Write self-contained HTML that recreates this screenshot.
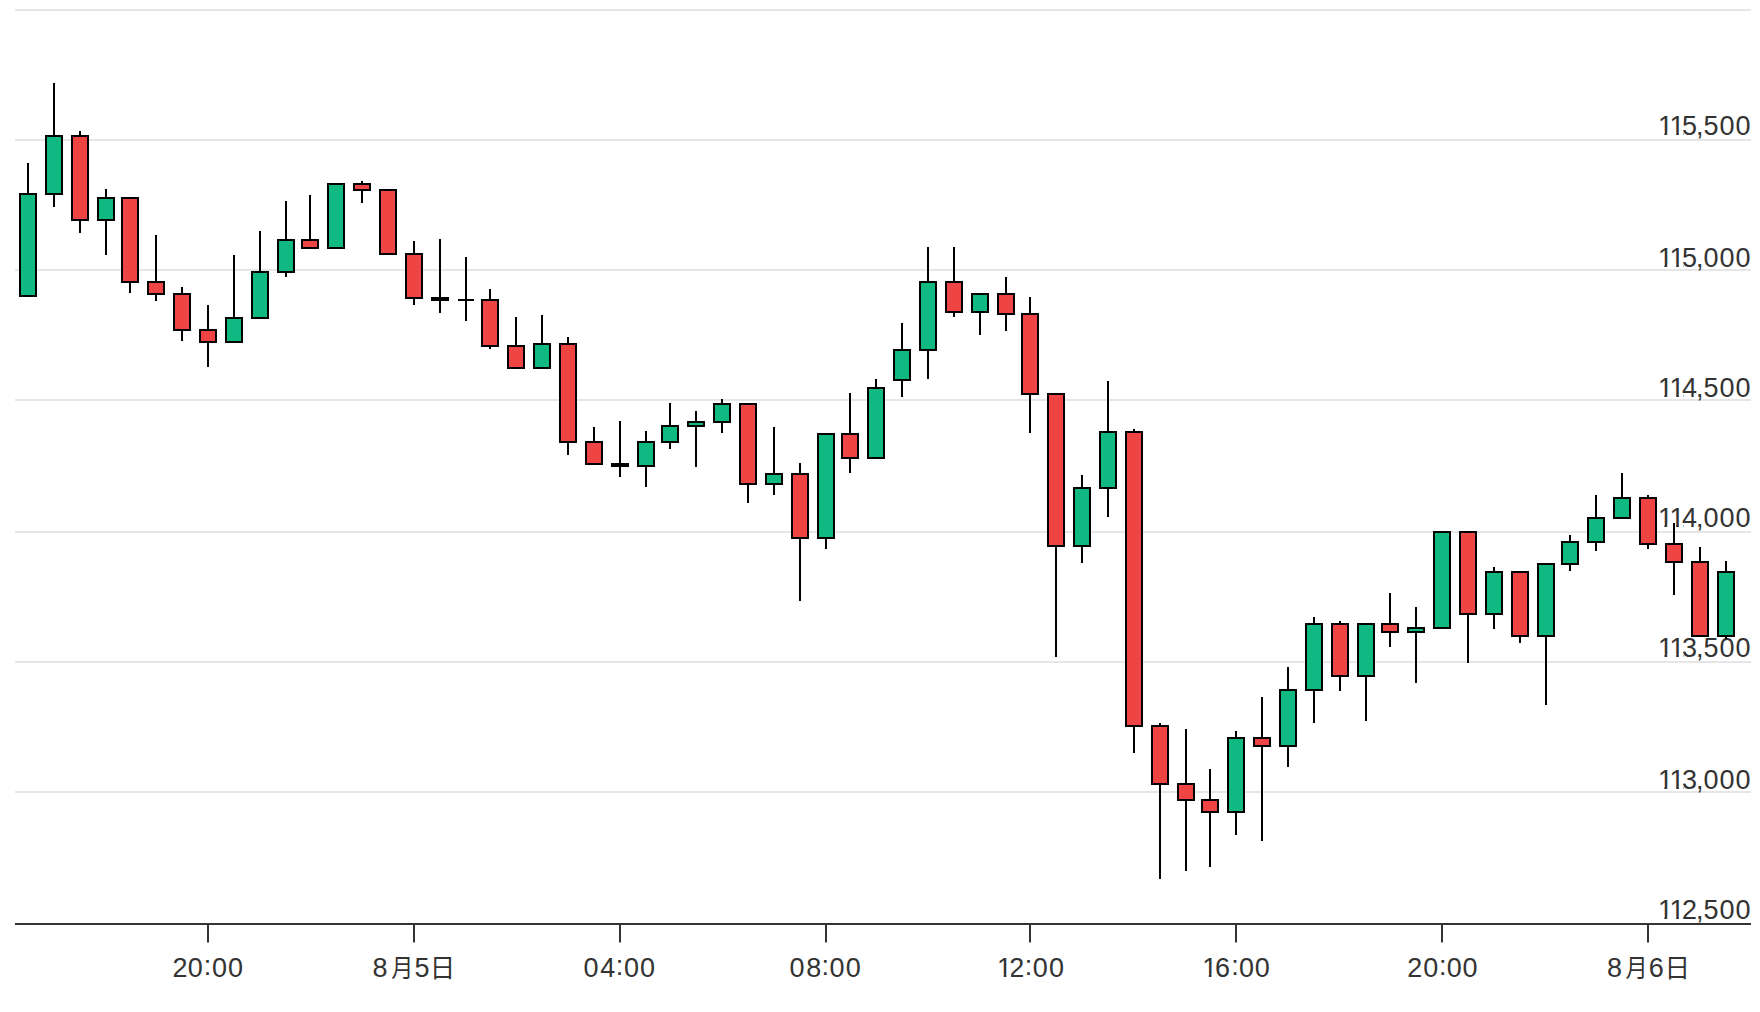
<!DOCTYPE html>
<html lang="zh"><head><meta charset="utf-8"><title>K线图</title>
<style>html,body{margin:0;padding:0;background:#fff}body{width:1760px;height:1012px;overflow:hidden}svg{display:block}text{font-family:"Liberation Sans","Noto Sans CJK SC",sans-serif;fill:#333333}.n{font-size:27px}.c{font-size:25.5px}</style></head><body>
<svg width="1760" height="1012" viewBox="0 0 1760 1012">
<rect width="1760" height="1012" fill="#fff"/>
<g stroke="#e6e6e6" stroke-width="2">
<line x1="15" y1="10" x2="1751" y2="10"/>
<line x1="15" y1="140" x2="1751" y2="140"/>
<line x1="15" y1="270" x2="1751" y2="270"/>
<line x1="15" y1="400" x2="1751" y2="400"/>
<line x1="15" y1="532" x2="1751" y2="532"/>
<line x1="15" y1="662" x2="1751" y2="662"/>
<line x1="15" y1="792" x2="1751" y2="792"/>
</g>
<g stroke="#333333" stroke-width="2">
<line x1="15" y1="924" x2="1751" y2="924"/>
<line x1="208" y1="924" x2="208" y2="942.5"/>
<line x1="414" y1="924" x2="414" y2="942.5"/>
<line x1="620" y1="924" x2="620" y2="942.5"/>
<line x1="826" y1="924" x2="826" y2="942.5"/>
<line x1="1030" y1="924" x2="1030" y2="942.5"/>
<line x1="1236" y1="924" x2="1236" y2="942.5"/>
<line x1="1442" y1="924" x2="1442" y2="942.5"/>
<line x1="1648" y1="924" x2="1648" y2="942.5"/>
</g>
<defs><clipPath id="ky"><rect x="0" y="-42.80" width="1760" height="40"/><rect x="1664.49" y="-3.00" width="2.70" height="4"/><rect x="1676.19" y="-3.00" width="2.70" height="4"/><rect x="1683.00" y="-3.00" width="77.00" height="12"/></clipPath><clipPath id="kx3"><rect x="0" y="934.20" width="1760" height="40"/><rect x="1003.67" y="974.00" width="2.70" height="4"/><rect x="1011.13" y="974.00" width="748.87" height="12"/></clipPath><clipPath id="kx4"><rect x="0" y="934.20" width="1760" height="40"/><rect x="1208.79" y="974.00" width="2.70" height="4"/><rect x="1216.25" y="974.00" width="543.75" height="12"/></clipPath></defs>
<g class="n">
<g transform="translate(0,135.2)"><text clip-path="url(#ky)" x="1657.9 1669.6 1682.0 1696.1 1703.6 1719.6 1735.6" y="0">115,500</text></g>
<g transform="translate(0,267.2)"><text clip-path="url(#ky)" x="1657.9 1669.6 1682.0 1696.1 1703.5 1719.6 1735.6" y="0">115,000</text></g>
<g transform="translate(0,397.2)"><text clip-path="url(#ky)" x="1657.9 1669.6 1682.1 1696.1 1703.6 1719.6 1735.6" y="0">114,500</text></g>
<g transform="translate(0,527.2)"><text clip-path="url(#ky)" x="1657.9 1669.6 1682.1 1696.1 1703.5 1719.6 1735.6" y="0">114,000</text></g>
<g transform="translate(0,657.2)"><text clip-path="url(#ky)" x="1657.9 1669.6 1682.1 1696.1 1703.6 1719.6 1735.6" y="0">113,500</text></g>
<g transform="translate(0,789.2)"><text clip-path="url(#ky)" x="1657.9 1669.6 1682.1 1696.1 1703.5 1719.6 1735.6" y="0">113,000</text></g>
<g transform="translate(0,919.2)"><text clip-path="url(#ky)" x="1657.9 1669.6 1682.0 1696.1 1703.6 1719.6 1735.6" y="0">112,500</text></g>
<text x="172.6 187.7 203.7 212.0 228.1" y="977 977 975.4 977 977">20:00</text>
<text x="583.6 600.2 615.8 624.0 640.0" y="977 977 975.4 977 977">04:00</text>
<text x="789.5 806.3 821.5 829.4 845.7" y="977 977 975.4 977 977">08:00</text>
<text clip-path="url(#kx3)" x="997.0 1009.3 1024.8 1032.8 1048.9" y="977 977 975.4 977 977">12:00</text>
<text clip-path="url(#kx4)" x="1202.2 1214.9 1231.2 1239.0 1254.8" y="977 977 975.4 977 977">16:00</text>
<text x="1407.3 1423.3 1439.0 1446.7 1462.6" y="977 977 975.4 977 977">20:00</text>
</g>
<text y="977"><tspan class="n" x="372.5">8</tspan><tspan class="c" x="391.3" textLength="22.10" lengthAdjust="spacingAndGlyphs">月</tspan><tspan class="n" x="414.6">5</tspan><tspan class="c" x="429.8">日</tspan></text>
<text y="977"><tspan class="n" x="1606.9">8</tspan><tspan class="c" x="1625.6" textLength="22.10" lengthAdjust="spacingAndGlyphs">月</tspan><tspan class="n" x="1648.7">6</tspan><tspan class="c" x="1664.5">日</tspan></text>
<g stroke="#000" stroke-width="2">
<line x1="28" y1="163" x2="28" y2="296"/>
<rect x="20" y="194" width="16" height="102" fill="#10b981"/>
<line x1="54" y1="83" x2="54" y2="207"/>
<rect x="46" y="136" width="16" height="58" fill="#10b981"/>
<line x1="80" y1="131" x2="80" y2="233"/>
<rect x="72" y="136" width="16" height="84" fill="#ef4444"/>
<line x1="106" y1="189" x2="106" y2="255"/>
<rect x="98" y="198" width="16" height="22" fill="#10b981"/>
<line x1="130" y1="198" x2="130" y2="293"/>
<rect x="122" y="198" width="16" height="84" fill="#ef4444"/>
<line x1="156" y1="235" x2="156" y2="301"/>
<rect x="148" y="282" width="16" height="12" fill="#ef4444"/>
<line x1="182" y1="287" x2="182" y2="341"/>
<rect x="174" y="294" width="16" height="36" fill="#ef4444"/>
<line x1="208" y1="305" x2="208" y2="367"/>
<rect x="200" y="330" width="16" height="12" fill="#ef4444"/>
<line x1="234" y1="255" x2="234" y2="342"/>
<rect x="226" y="318" width="16" height="24" fill="#10b981"/>
<line x1="260" y1="231" x2="260" y2="318"/>
<rect x="252" y="272" width="16" height="46" fill="#10b981"/>
<line x1="286" y1="201" x2="286" y2="277"/>
<rect x="278" y="240" width="16" height="32" fill="#10b981"/>
<line x1="310" y1="195" x2="310" y2="248"/>
<rect x="302" y="240" width="16" height="8" fill="#ef4444"/>
<rect x="328" y="184" width="16" height="64" fill="#10b981"/>
<line x1="362" y1="181" x2="362" y2="203"/>
<rect x="354" y="184" width="16" height="6" fill="#ef4444"/>
<rect x="380" y="190" width="16" height="64" fill="#ef4444"/>
<line x1="414" y1="241" x2="414" y2="305"/>
<rect x="406" y="254" width="16" height="44" fill="#ef4444"/>
<line x1="440" y1="239" x2="440" y2="313"/>
<rect x="432" y="298" width="16" height="2" fill="#ef4444"/>
<line x1="466" y1="257" x2="466" y2="321"/>
<line x1="458" y1="300" x2="474" y2="300"/>
<line x1="490" y1="289" x2="490" y2="349"/>
<rect x="482" y="300" width="16" height="46" fill="#ef4444"/>
<line x1="516" y1="317" x2="516" y2="368"/>
<rect x="508" y="346" width="16" height="22" fill="#ef4444"/>
<line x1="542" y1="315" x2="542" y2="368"/>
<rect x="534" y="344" width="16" height="24" fill="#10b981"/>
<line x1="568" y1="337" x2="568" y2="455"/>
<rect x="560" y="344" width="16" height="98" fill="#ef4444"/>
<line x1="594" y1="427" x2="594" y2="464"/>
<rect x="586" y="442" width="16" height="22" fill="#ef4444"/>
<line x1="620" y1="421" x2="620" y2="477"/>
<rect x="612" y="464" width="16" height="2" fill="#ef4444"/>
<line x1="646" y1="431" x2="646" y2="487"/>
<rect x="638" y="442" width="16" height="24" fill="#10b981"/>
<line x1="670" y1="403" x2="670" y2="449"/>
<rect x="662" y="426" width="16" height="16" fill="#10b981"/>
<line x1="696" y1="411" x2="696" y2="467"/>
<rect x="688" y="422" width="16" height="4" fill="#10b981"/>
<line x1="722" y1="399" x2="722" y2="433"/>
<rect x="714" y="404" width="16" height="18" fill="#10b981"/>
<line x1="748" y1="404" x2="748" y2="503"/>
<rect x="740" y="404" width="16" height="80" fill="#ef4444"/>
<line x1="774" y1="427" x2="774" y2="495"/>
<rect x="766" y="474" width="16" height="10" fill="#10b981"/>
<line x1="800" y1="463" x2="800" y2="601"/>
<rect x="792" y="474" width="16" height="64" fill="#ef4444"/>
<line x1="826" y1="434" x2="826" y2="549"/>
<rect x="818" y="434" width="16" height="104" fill="#10b981"/>
<line x1="850" y1="393" x2="850" y2="473"/>
<rect x="842" y="434" width="16" height="24" fill="#ef4444"/>
<line x1="876" y1="379" x2="876" y2="458"/>
<rect x="868" y="388" width="16" height="70" fill="#10b981"/>
<line x1="902" y1="323" x2="902" y2="397"/>
<rect x="894" y="350" width="16" height="30" fill="#10b981"/>
<line x1="928" y1="247" x2="928" y2="379"/>
<rect x="920" y="282" width="16" height="68" fill="#10b981"/>
<line x1="954" y1="247" x2="954" y2="317"/>
<rect x="946" y="282" width="16" height="30" fill="#ef4444"/>
<line x1="980" y1="294" x2="980" y2="335"/>
<rect x="972" y="294" width="16" height="18" fill="#10b981"/>
<line x1="1006" y1="277" x2="1006" y2="331"/>
<rect x="998" y="294" width="16" height="20" fill="#ef4444"/>
<line x1="1030" y1="297" x2="1030" y2="433"/>
<rect x="1022" y="314" width="16" height="80" fill="#ef4444"/>
<line x1="1056" y1="394" x2="1056" y2="657"/>
<rect x="1048" y="394" width="16" height="152" fill="#ef4444"/>
<line x1="1082" y1="475" x2="1082" y2="563"/>
<rect x="1074" y="488" width="16" height="58" fill="#10b981"/>
<line x1="1108" y1="381" x2="1108" y2="517"/>
<rect x="1100" y="432" width="16" height="56" fill="#10b981"/>
<line x1="1134" y1="429" x2="1134" y2="753"/>
<rect x="1126" y="432" width="16" height="294" fill="#ef4444"/>
<line x1="1160" y1="723" x2="1160" y2="879"/>
<rect x="1152" y="726" width="16" height="58" fill="#ef4444"/>
<line x1="1186" y1="729" x2="1186" y2="871"/>
<rect x="1178" y="784" width="16" height="16" fill="#ef4444"/>
<line x1="1210" y1="769" x2="1210" y2="867"/>
<rect x="1202" y="800" width="16" height="12" fill="#ef4444"/>
<line x1="1236" y1="731" x2="1236" y2="835"/>
<rect x="1228" y="738" width="16" height="74" fill="#10b981"/>
<line x1="1262" y1="697" x2="1262" y2="841"/>
<rect x="1254" y="738" width="16" height="8" fill="#ef4444"/>
<line x1="1288" y1="667" x2="1288" y2="767"/>
<rect x="1280" y="690" width="16" height="56" fill="#10b981"/>
<line x1="1314" y1="617" x2="1314" y2="723"/>
<rect x="1306" y="624" width="16" height="66" fill="#10b981"/>
<line x1="1340" y1="621" x2="1340" y2="691"/>
<rect x="1332" y="624" width="16" height="52" fill="#ef4444"/>
<line x1="1366" y1="624" x2="1366" y2="721"/>
<rect x="1358" y="624" width="16" height="52" fill="#10b981"/>
<line x1="1390" y1="593" x2="1390" y2="647"/>
<rect x="1382" y="624" width="16" height="8" fill="#ef4444"/>
<line x1="1416" y1="607" x2="1416" y2="683"/>
<rect x="1408" y="628" width="16" height="4" fill="#10b981"/>
<rect x="1434" y="532" width="16" height="96" fill="#10b981"/>
<line x1="1468" y1="532" x2="1468" y2="663"/>
<rect x="1460" y="532" width="16" height="82" fill="#ef4444"/>
<line x1="1494" y1="567" x2="1494" y2="629"/>
<rect x="1486" y="572" width="16" height="42" fill="#10b981"/>
<line x1="1520" y1="572" x2="1520" y2="643"/>
<rect x="1512" y="572" width="16" height="64" fill="#ef4444"/>
<line x1="1546" y1="564" x2="1546" y2="705"/>
<rect x="1538" y="564" width="16" height="72" fill="#10b981"/>
<line x1="1570" y1="535" x2="1570" y2="571"/>
<rect x="1562" y="542" width="16" height="22" fill="#10b981"/>
<line x1="1596" y1="495" x2="1596" y2="551"/>
<rect x="1588" y="518" width="16" height="24" fill="#10b981"/>
<line x1="1622" y1="473" x2="1622" y2="518"/>
<rect x="1614" y="498" width="16" height="20" fill="#10b981"/>
<line x1="1648" y1="495" x2="1648" y2="549"/>
<rect x="1640" y="498" width="16" height="46" fill="#ef4444"/>
<line x1="1674" y1="523" x2="1674" y2="595"/>
<rect x="1666" y="544" width="16" height="18" fill="#ef4444"/>
<line x1="1700" y1="547" x2="1700" y2="636"/>
<rect x="1692" y="562" width="16" height="74" fill="#ef4444"/>
<line x1="1726" y1="561" x2="1726" y2="639"/>
<rect x="1718" y="572" width="16" height="64" fill="#10b981"/>
</g>
</svg></body></html>
